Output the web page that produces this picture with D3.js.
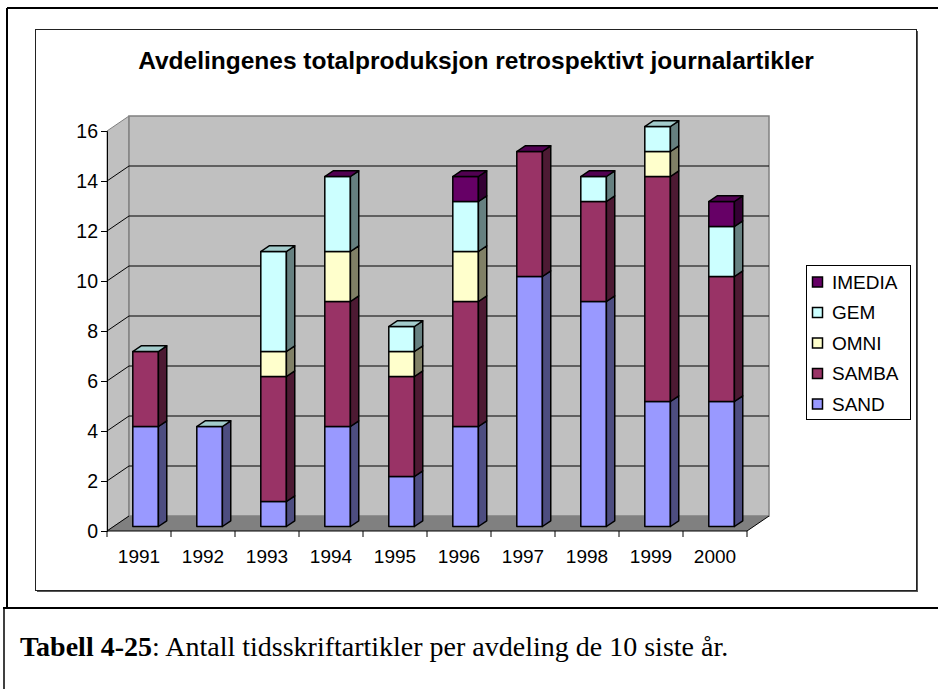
<!DOCTYPE html>
<html>
<head>
<meta charset="utf-8">
<script src="https://cdn.jsdelivr.net/npm/d3@7"></script>
<style>
  body { margin: 0; background: #fff; }
  text { font-family: Arial, "Liberation Sans", sans-serif; }
</style>
</head>
<body>
<svg width="938" height="689"></svg>
<script>
// data, bottom series first. null = empty cell in the sheet, 0 = zero value
var years = ["1991", "1992", "1993", "1994", "1995", "1996", "1997", "1998", "1999", "2000"];
var sand   = [4, 4, 1, 4, 2, 4, 10, 9, 5, 5];
var samba  = [3, 0, 5, 5, 4, 5, 5, 4, 9, 5];
var omni   = [0, 0, 1, 2, 1, 2, 0, 0, 1, 0];
var gem    = [0, 0, 4, 3, 1, 2, 0, 1, 1, 2];
var imedia = [null, null, null, 0, null, 1, 0, 0, null, 1];
var yTicks = [0, 2, 4, 6, 8, 10, 12, 14, 16];

var seriesNames = ["SAND", "SAMBA", "OMNI", "GEM", "IMEDIA"];
var seriesVals = [sand, samba, omni, gem, imedia];
var seriesFill = ["#9999ff", "#993366", "#ffffcc", "#ccffff", "#660066"];

var svg = d3.select("svg");

// page frame + caption cell
svg.append("line").attr("x1", 7).attr("y1", 8).attr("x2", 938).attr("y2", 8)
    .attr("stroke", "#000").attr("stroke-width", 2);
svg.append("line").attr("x1", 7).attr("y1", 8).attr("x2", 7).attr("y2", 608)
    .attr("stroke", "#000").attr("stroke-width", 2);
svg.append("line").attr("x1", 3).attr("y1", 608).attr("x2", 938).attr("y2", 608)
    .attr("stroke", "#000").attr("stroke-width", 2);
svg.append("line").attr("x1", 4).attr("y1", 608).attr("x2", 4).attr("y2", 689)
    .attr("stroke", "#000").attr("stroke-width", 1.5);

var cap = svg.append("text")
    .attr("x", 20).attr("y", 656)
    .style("font-family", "'Times New Roman', 'Liberation Serif', serif")
    .style("font-size", "28px");
cap.append("tspan").style("font-weight", "bold").text("Tabell 4-25");
cap.append("tspan").text(": Antall tidsskriftartikler per avdeling de 10 siste år.");

// chart area box with shadow
svg.append("rect").attr("x", 37).attr("y", 31).attr("width", 881).attr("height", 561)
    .attr("fill", "#555");
svg.append("rect").attr("x", 35.5).attr("y", 29.5).attr("width", 881).attr("height", 561)
    .attr("fill", "#fff").attr("stroke", "#222").attr("stroke-width", 1);

svg.append("text")
    .attr("x", 476).attr("y", 69)
    .attr("text-anchor", "middle")
    .style("font-size", "24.5px").style("font-weight", "bold")
    .text("Avdelingenes totalproduksjon retrospektivt journalartikler");

// scales
var x = d3.scaleBand().domain(years).range([107, 747]).paddingInner(0.6).paddingOuter(0.3);
var y = d3.scaleLinear().domain([0, 16]).range([531, 131]);
var depthX = 22, depthY = -15;   // floor depth
var f0 = 0.3, f1 = 0.68;         // where the bars sit in that depth

function pts(a) { return a.map(function(p) { return p.join(","); }).join(" "); }
function shade(c, k) { var r = d3.rgb(c); return d3.rgb(r.r * k, r.g * k, r.b * k).formatHex(); }

var x0 = x.range()[0], x1 = x.range()[1];
var yTop = y(16), yBot = y(0);

// walls and floor
svg.append("polygon")
    .attr("points", pts([[x0, yBot], [x0, yTop], [x0 + depthX, yTop + depthY], [x0 + depthX, yBot + depthY]]))
    .attr("fill", "#c0c0c0").attr("stroke", "#808080");
svg.append("polygon")
    .attr("points", pts([[x0 + depthX, yTop + depthY], [x1 + depthX, yTop + depthY], [x1 + depthX, yBot + depthY], [x0 + depthX, yBot + depthY]]))
    .attr("fill", "#c0c0c0").attr("stroke", "#808080").attr("stroke-width", 1.5);
svg.append("polygon")
    .attr("points", pts([[x0, yBot], [x1, yBot], [x1 + depthX, yBot + depthY], [x0 + depthX, yBot + depthY]]))
    .attr("fill", "#808080");

// gridlines on side + back wall
var grid = svg.append("g");
yTicks.filter(function(t) { return t > 0 && t < 16; }).forEach(function(t) {
    grid.append("polyline")
        .attr("points", pts([[x0, y(t)], [x0 + depthX, y(t) + depthY], [x1 + depthX, y(t) + depthY]]))
        .attr("fill", "none").attr("stroke", "#000").attr("stroke-width", 1);
});
grid.append("line")
    .attr("x1", x0).attr("y1", yBot).attr("x2", x0 + depthX).attr("y2", yBot + depthY)
    .attr("stroke", "#000");
grid.append("line")
    .attr("x1", x1).attr("y1", yBot).attr("x2", x1 + depthX).attr("y2", yBot + depthY)
    .attr("stroke", "#000");

// y axis
var yAxis = svg.append("g")
    .attr("transform", "translate(" + x0 + ",0)")
    .call(d3.axisLeft(y).tickValues(yTicks).tickSize(6).tickPadding(3).tickFormat(d3.format("d")));
yAxis.select(".domain").attr("stroke", "#000");
yAxis.selectAll("text").style("font-size", "19.5px").attr("fill", "#000").attr("font-family", null);

// x axis: labels at category centres, ticks at boundaries
var xAxis = svg.append("g")
    .attr("transform", "translate(0," + yBot + ")")
    .call(d3.axisBottom(x).tickSize(0).tickPadding(19));
xAxis.select(".domain").remove();
xAxis.selectAll("text").style("font-size", "19px").attr("fill", "#000").attr("font-family", null);
svg.append("line").attr("x1", x0).attr("y1", yBot).attr("x2", x1).attr("y2", yBot).attr("stroke", "#000");
d3.range(years.length + 1).forEach(function(i) {
    var bx = x0 + i * x.step();
    svg.append("line").attr("x1", bx).attr("y1", yBot).attr("x2", bx).attr("y2", yBot + 6).attr("stroke", "#000");
});

// bars
var fdx = f0 * depthX, fdy = f0 * depthY;
var bdx = (f1 - f0) * depthX, bdy = (f1 - f0) * depthY;
var bars = svg.append("g")
    .attr("stroke", "#000").attr("stroke-width", 1.5).attr("stroke-linejoin", "round");

years.forEach(function(yr, i) {
    var base = 0, topIdx = -1;
    var bl = x(yr) + fdx, br = bl + x.bandwidth();
    seriesVals.forEach(function(vals, s) {
        var v = vals[i];
        if (v === null) return;
        topIdx = s;
        if (v > 0) {
            var yb = y(base) + fdy, yt = y(base + v) + fdy;
            bars.append("rect")
                .attr("x", bl).attr("y", yt).attr("width", br - bl).attr("height", yb - yt)
                .attr("fill", seriesFill[s]);
            bars.append("polygon")
                .attr("points", pts([[br, yb], [br, yt], [br + bdx, yt + bdy], [br + bdx, yb + bdy]]))
                .attr("fill", shade(seriesFill[s], 0.5));
        }
        base += v;
    });
    var ty = y(base) + fdy;
    bars.append("polygon")
        .attr("points", pts([[bl, ty], [bl + bdx, ty + bdy], [br + bdx, ty + bdy], [br, ty]]))
        .attr("fill", shade(seriesFill[topIdx], 0.8));
});

// legend
var legend = svg.append("g");
legend.append("rect").attr("x", 806.5).attr("y", 265.5).attr("width", 104).attr("height", 154)
    .attr("fill", "#fff").attr("stroke", "#000");
seriesNames.slice().reverse().forEach(function(name, j) {
    var s = seriesNames.length - 1 - j;
    var cy = 282 + j * 30.5;
    legend.append("rect").attr("x", 812.5).attr("y", cy - 5).attr("width", 10).attr("height", 10)
        .attr("fill", seriesFill[s]).attr("stroke", "#000").attr("stroke-width", 1.5);
    legend.append("text").attr("x", 832).attr("y", cy).attr("dy", "0.35em")
        .style("font-size", "19px").text(name);
});
</script>
</body>
</html>
